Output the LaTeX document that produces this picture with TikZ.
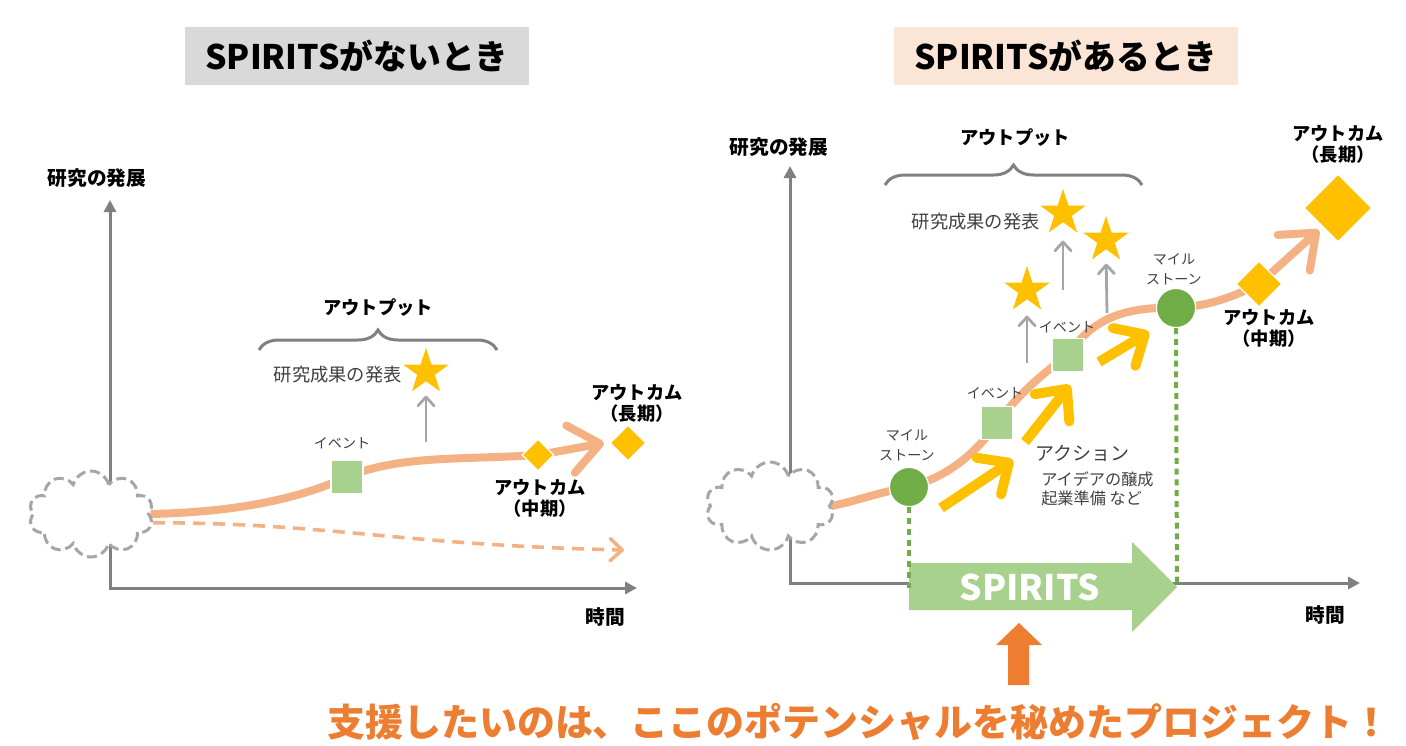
\documentclass[tikz,border=0pt]{standalone}
\usepackage{fontspec}
\setmainfont{Noto Sans CJK JP}
\usetikzlibrary{shapes.geometric, shapes.symbols, arrows.meta, decorations.pathreplacing, backgrounds}
\definecolor{gold}{HTML}{FFC000}
\definecolor{peach}{HTML}{F4B183}
\definecolor{lightgreen}{HTML}{A9D18E}
\definecolor{leafgreen}{HTML}{70AD47}
\definecolor{signal}{HTML}{ED7D31}
\definecolor{axisgray}{HTML}{808080}
\definecolor{arrowgray}{HTML}{A6A6A6}
\definecolor{textgray}{HTML}{404040}
\definecolor{titlegray}{HTML}{D9D9D9}
\definecolor{titlepeach}{HTML}{FBE5D6}

\begin{document}
\begin{tikzpicture}[x=0.25mm, y=-0.25mm,
    every node/.style={inner sep=0pt},
    titlebox/.style={minimum width=86mm, minimum height=14.25mm, font=\bfseries\fontsize{24}{28}\selectfont},
    axislabel/.style={font=\bfseries\fontsize{14}{16}\selectfont},
    boldlabel/.style={font=\bfseries\fontsize{13}{15}\selectfont, align=center},
    note/.style={font=\fontsize{13}{15}\selectfont, text=textgray},
    smallnote/.style={font=\fontsize{10}{14}\selectfont, text=textgray, align=center},
    axis/.style={draw=axisgray, line width=0.75mm, {Triangle[length=3mm,width=3mm]}-{Triangle[length=3mm,width=3mm]}},
    haze/.style={cloud, cloud puffs=10, aspect=1.5, draw=arrowgray, fill=white, dash pattern=on 2.5mm off 1.2mm, line width=0.75mm, minimum width=31mm, minimum height=21.5mm},
    road/.style={draw=peach, line width=2mm, -{Straight Barb[length=7.5mm, width=12mm, round]}},
    eventbox/.style={fill=lightgreen, draw=white, line width=0.3mm, minimum width=8mm, minimum height=8.3mm},
    milestone/.style={circle, fill=leafgreen, draw=white, line width=0.3mm, minimum size=9.8mm},
    outstar/.style={star, star points=5, star point ratio=2.6, fill=gold, minimum size=12mm},
    outcome/.style={diamond, fill=gold, draw=white, line width=0.3mm, aspect=1},
    uparrow/.style={draw=arrowgray, line width=0.7mm, shorten >=3.5mm, -{Straight Barb[length=2.2mm, width=4mm, round]}},
    push/.style={draw=gold, line width=2.5mm, -{Straight Barb[length=6mm, width=11mm, round]}},
    span/.style={draw=axisgray, line width=0.75mm, decorate, decoration={brace, amplitude=5mm}},
    guide/.style={draw=leafgreen, line width=1mm, dash pattern=on 1.5mm off 1.2mm},
  ]
  \useasboundingbox (0,0) rectangle (1406,746);

  % titles
  \node[titlebox, fill=titlegray] (titleL) at (357,56) {SPIRITSがないとき};
  \node[titlebox, fill=titlepeach] (titleR) at (1066,56) {SPIRITSがあるとき};

  % ---- without SPIRITS ----
  \coordinate (topL) at (110,200);
  \coordinate (originL) at (110,588);
  \coordinate (endL) at (637,588);
  \draw[axis] (topL) -- (originL) -- (endL);
  \node[axislabel] (devL) at (97,178) {研究の発展};
  \node[axislabel] (timeL) at (605,617) {時間};

  \node[haze] (cloudL) at (91,514) {};
  \node[eventbox] (evL) at (347,477) {};
  \node[smallnote] (evLlabel) at (342,443) {イベント};
  \node[outcome, minimum size=8mm] (midL) at (538,455) {};
  \node[outcome, minimum size=9mm] (longL) at (628,443) {};
  \coordinate (tipL) at (604,443);
  \coordinate (fadeL) at (624,550);
  \node[boldlabel] (midLlabel) at (540,498) {アウトカム\\（中期）};
  \node[boldlabel] (longLlabel) at (637,403) {アウトカム\\（長期）};

  \node[outstar] (starL) at (426,372) {};
  \coordinate (pubL) at (426,442);
  \draw[uparrow] (pubL) -- (starL.south);
  \node[note, anchor=east] (resL) at (402,375) {研究成果の発表};

  \coordinate (braceL1) at (259,350);
  \coordinate (braceL2) at (497,350);
  \draw[span] (braceL1) -- (braceL2);
  \node[boldlabel] (outputL) at (378,308) {アウトプット};

  \begin{scope}[on background layer]
    \draw[road] (cloudL.east) .. controls (240,512) and (300,498) .. (evL.center)
      .. controls (400,455) and (460,460) .. (midL.center) -- (tipL);
    \draw[draw=peach, line width=0.9mm, dash pattern=on 3mm off 2mm,
      -{Straight Barb[length=3mm, width=5.5mm, round]}]
      (cloudL.-8) .. controls (330,523) and (400,545) .. (fadeL);
  \end{scope}

  % ---- with SPIRITS ----
  \coordinate (topR) at (790,166);
  \coordinate (originR) at (790,583);
  \coordinate (endR) at (1360,583);
  \draw[axis] (topR) -- (originR) -- (endR);
  \node[axislabel] (devR) at (779,147) {研究の発展};
  \node[axislabel] (timeR) at (1325,615) {時間};

  \node[haze, minimum width=32mm, minimum height=22mm] (cloudR) at (770,506) {};

  % SPIRITS arrow
  \fill[lightgreen] (909,563) -- (1132,563) -- (1132,542) -- (1177,587)
    -- (1132,632) -- (1132,610) -- (909,610) -- cycle;
  \node[font=\bfseries\fontsize{25}{30}\selectfont, text=white] (spirits) at (1030,587) {SPIRITS};

  \node[milestone] (ms1) at (909,487) {};
  \node[eventbox] (ev1) at (997,423) {};
  \node[eventbox] (ev2) at (1068,355) {};
  \node[milestone] (ms2) at (1176,308) {};
  \node[outcome, minimum size=11.5mm] (midR) at (1259,284) {};
  \node[outcome, minimum size=17mm] (longR) at (1338,208) {};
  \coordinate (tipR) at (1319,230);

  \node[smallnote] (ms1label) at (907,445) {マイル\\ストーン};
  \node[smallnote] (ms2label) at (1174,269) {マイル\\ストーン};
  \node[smallnote] (ev1label) at (995,393) {イベント};
  \node[smallnote] (ev2label) at (1067,327) {イベント};
  \node[boldlabel] (midRlabel) at (1269,328) {アウトカム\\（中期）};
  \node[boldlabel] (longRlabel) at (1338,144) {アウトカム\\（長期）};

  \coordinate (g1) at (909,588);
  \coordinate (g2) at (1177,583);
  \draw[guide] (ms1.south) -- (g1);
  \draw[guide] (ms2.south) -- (g2);

  \node[outstar] (star1) at (1063,213) {};
  \node[outstar] (star2) at (1106,240) {};
  \node[outstar] (star3) at (1027,290) {};
  \coordinate (pub1) at (1063,290);
  \coordinate (pub2) at (1107,313);
  \coordinate (pub3) at (1027,363);
  \draw[uparrow, shorten >=4.5mm] (pub1) -- (star1.south);
  \draw[uparrow] (pub2) -- (star2.south);
  \draw[uparrow, shorten >=4mm] (pub3) -- (star3.south);
  \node[note, anchor=east] (resR) at (1040,222) {研究成果の発表};

  \coordinate (braceR1) at (885,185);
  \coordinate (braceR2) at (1142,185);
  \draw[span] (braceR1) -- (braceR2);
  \node[boldlabel] (outputR) at (1015,138) {アウトプット};

  % actions
  \coordinate (act1a) at (941,508); \coordinate (act1b) at (1013,460);
  \coordinate (act2a) at (1025,442); \coordinate (act2b) at (1070,385);
  \coordinate (act3a) at (1099,362); \coordinate (act3b) at (1149,332);
  \draw[push] (act1a) -- (act1b);
  \draw[push] (act2a) -- (act2b);
  \draw[push] (act3a) -- (act3b);
  \node[font=\fontsize{13.5}{15}\selectfont, text=textgray, anchor=west] (action) at (1035,453) {アクション};
  \node[font=\fontsize{11.5}{14}\selectfont, text=textgray, align=left, anchor=north west] (actiontext) at (1041,471) {アイデアの醸成\\起業準備 など};

  \begin{scope}[on background layer]
    \draw[road] (cloudR.east) .. controls (860,500) and (880,492) .. (ms1.center)
      .. controls (945,478) and (975,455) .. (ev1.center)
      .. controls (1020,392) and (1045,372) .. (ev2.center)
      .. controls (1090,322) and (1120,306) .. (ms2.center)
      .. controls (1210,306) and (1235,296) .. (midR.center) -- (tipR);
  \end{scope}

  % call-out
  \fill[signal] (1008,685) -- (1008,645) -- (996,645) -- (1019,623) -- (1042,645)
    -- (1029,645) -- (1029,685) -- cycle;
  \node[font=\bfseries\fontsize{27}{30}\selectfont, text=signal, anchor=west] (message) at (327,722)
    {支援したいのは、ここのポテンシャルを秘めたプロジェクト！};
\end{tikzpicture}
\end{document}
